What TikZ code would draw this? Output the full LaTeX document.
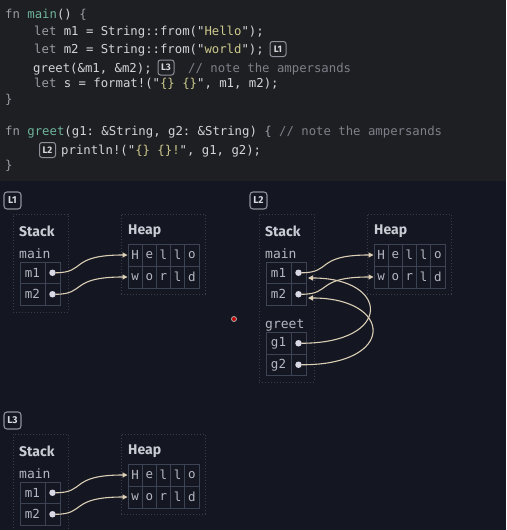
\documentclass[tikz,border=0pt]{standalone}
\usepackage{fontspec}
\setmainfont{Fira Sans}
\setsansfont{Fira Sans}
\setmonofont{DejaVu Sans Mono}
\usetikzlibrary{arrows.meta}
\definecolor{topbg}{HTML}{1E1F22}
\definecolor{botbg}{HTML}{141722}
\definecolor{kw}{HTML}{9A9CA3}
\definecolor{plain}{HTML}{D2D4D8}
\definecolor{fnc}{HTML}{6DB39A}
\definecolor{strc}{HTML}{CDC98E}
\definecolor{com}{HTML}{7D8089}
\definecolor{lblc}{HTML}{8E9199}
\definecolor{lbltxt}{HTML}{D6D8DE}
\definecolor{boxc}{HTML}{3A3E4A}
\definecolor{cellc}{HTML}{3C4354}
\definecolor{titc}{HTML}{C9CCD3}
\definecolor{monoc}{HTML}{B4B7BE}
\definecolor{dotc}{HTML}{D9D9E6}
\definecolor{arrc}{HTML}{DCCFB6}
\newcommand\Kw[1]{\textcolor{kw}{#1}}
\newcommand\Fn[1]{\textcolor{fnc}{#1}}
\newcommand\St[1]{\textcolor{strc}{#1}}
\newcommand\Cm[1]{\textcolor{com}{#1}}
\tikzset{
  codeline/.style={anchor=base west, inner sep=0pt, text=plain, font=\ttfamily\fontsize{12.3}{14}\selectfont},
  clbl/.style={draw=lblc, line width=1pt, rounded corners=2.5pt, minimum width=16pt, minimum height=15pt, inner sep=0pt, text=lbltxt, font=\sffamily\bfseries\fontsize{9.5}{9.5}\selectfont},
  lbl/.style={draw=lblc, line width=1.1pt, rounded corners=3pt, fill=botbg, minimum width=17pt, minimum height=17pt, inner sep=0pt, text=lbltxt, font=\sffamily\bfseries\fontsize{10}{10}\selectfont},
  dotbox/.style={draw=boxc, line width=0.9pt, dash pattern=on 1pt off 2pt, anchor=north west, inner sep=0pt},
  title/.style={anchor=west, inner sep=0pt, text=titc, font=\sffamily\bfseries\fontsize{14}{14}\selectfont},
  frame/.style={anchor=west, inner sep=0pt, text=monoc, font=\ttfamily\fontsize{13}{13}\selectfont},
  cell/.style={draw=cellc, line width=1pt, minimum height=21.5pt, inner sep=0pt, text=monoc, font=\ttfamily\fontsize{12.5}{12.5}\selectfont},
  hcell/.style={draw=cellc, line width=1pt, minimum height=22pt, minimum width=14.2pt, inner sep=0pt, text=monoc, font=\ttfamily\fontsize{12.5}{12.5}\selectfont},
  ptr/.style={circle, fill=dotc, inner sep=0pt, minimum size=6.5pt},
  parrow/.style={draw=arrc, line width=1.1pt, -{Triangle[length=5pt,width=5pt]}}
}
\newcommand\memframe[4]{%
\begin{scope}[shift={(#2,#3)}]
  \node[lbl] (L#1lbl) at (12.5,200.5) {L#1};
  \node[dotbox, minimum width=55pt, minimum height=#4] (L#1stackbox) at (13,214) {};
  \node[title] (L#1stack) at (19,231) {Stack};
  \node[frame] (L#1main) at (19,254) {main};
  \node[cell, minimum width=25pt] (L#1m1) at (32.5,272.75) {m1};
  \node[cell, minimum width=15pt] (L#1m1v) at (52.5,272.75) {};
  \node[cell, minimum width=25pt] (L#1m2) at (32.5,294.25) {m2};
  \node[cell, minimum width=15pt] (L#1m2v) at (52.5,294.25) {};
  \node[ptr] (L#1m1dot) at (52.5,272.75) {};
  \node[ptr] (L#1m2dot) at (52.5,294.25) {};
  \node[dotbox, minimum width=84pt, minimum height=80pt] (L#1heapbox) at (121,214) {};
  \node[title] (L#1heap) at (128,231) {Heap};
  \foreach \ch [count=\i] in {H,e,l,l,o} {\node[hcell] (L#1h\i) at ({128+14.2*\i-7.1},255) {\ch};}
  \foreach \ch [count=\i] in {w,o,r,l,d} {\node[hcell] (L#1w\i) at ({128+14.2*\i-7.1},277) {\ch};}
  \draw[parrow] (L#1m1dot.east) .. controls +(30,0) and +(-58,0) .. (L#1h1.west);
  \draw[parrow] (L#1m2dot.east) .. controls +(30,0) and +(-58,0) .. (L#1w1.west);
\end{scope}}
\begin{document}
\begin{tikzpicture}[x=1pt,y=-1pt]
\useasboundingbox (0,0) rectangle (506,530);
\clip (0,0) rectangle (506,530);
\fill[topbg] (0,0) rectangle (506,181);
\fill[botbg] (0,181) rectangle (506,530);
% code
\node[codeline] (c1) at (5,19) {\Kw{fn} \Fn{main}() \Kw{\{}};
\node[codeline] (c2) at (34,35) {\Kw{let} m1 = String::from("\St{Hello}");};
\node[codeline] (c3) at (34,53) {\Kw{let} m2 = String::from("\St{world}");};
\node[clbl] (cL1) at (278,49) {L1};
\node[codeline] (c4) at (33,72) {greet(\&m1, \&m2);};
\node[clbl] (cL3) at (166,67.5) {L3};
\node[codeline] (c4c) at (188,72) {\Cm{// note the ampersands}};
\node[codeline] (c5) at (34,87) {\Kw{let} s = format!("\St{\{\} \{\}}", m1, m2);};
\node[codeline] (c6) at (5,103) {\Kw{\}}};
\node[codeline] (c7) at (5,135) {\Kw{fn} \Fn{greet}(g1: \&String, g2: \&String) \Kw{\{} \Cm{// note the ampersands}};
\node[clbl] (cL2) at (47.5,150) {L2};
\node[codeline] (c8) at (61,154) {println!("\St{\{\} \{\}!}", g1, g2);};
\node[codeline] (c9) at (5,169) {\Kw{\}}};
% frames
\memframe{1}{0}{0}{98pt}
\memframe{2}{246}{0}{168pt}
\memframe{3}{0}{220}{130pt}
% greet frame in L2
\node[frame] (L2greet) at (265,325) {greet};
\node[cell, minimum width=25pt] (L2g1) at (278.5,343.25) {g1};
\node[cell, minimum width=15pt] (L2g1v) at (298.5,343.25) {};
\node[cell, minimum width=25pt] (L2g2) at (278.5,364.75) {g2};
\node[cell, minimum width=15pt] (L2g2v) at (298.5,364.75) {};
\node[ptr] (L2g1dot) at (298.5,343.25) {};
\node[ptr] (L2g2dot) at (298.5,364.75) {};
\coordinate (L2m1in) at (308,278);
\coordinate (L2m2in) at (308,298);
\draw[parrow] (L2g1dot.east) .. controls (393,343) and (390,278) .. (L2m1in);
\draw[parrow] (L2g2dot.east) .. controls (397,365) and (393,298) .. (L2m2in);
% cursor dot
\node[circle, fill=red!75!black, draw=gray!60!white, line width=0.8pt, minimum size=5pt, inner sep=0pt] (cursor) at (234,319) {};
\end{tikzpicture}
\end{document}
